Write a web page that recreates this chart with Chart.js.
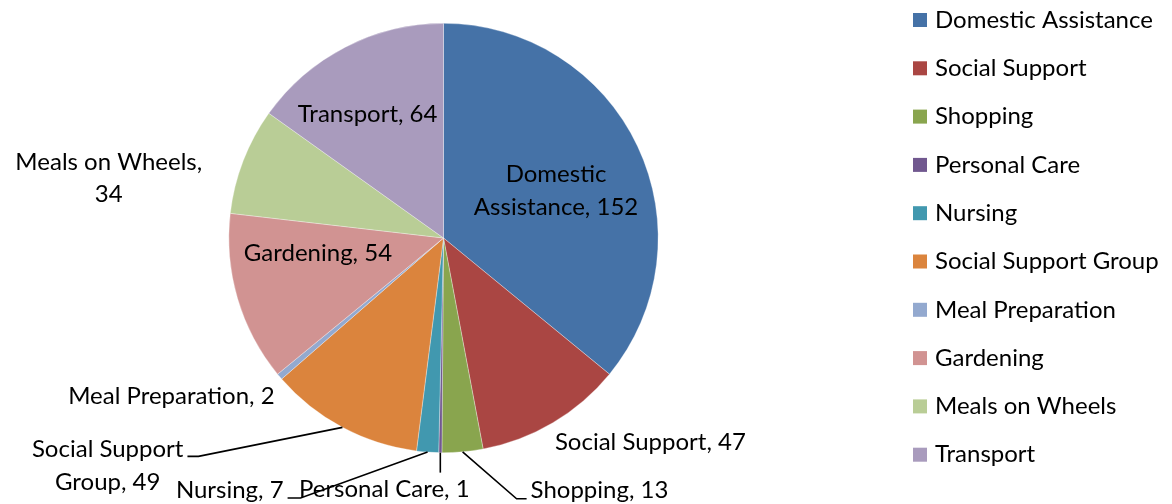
<!DOCTYPE html>
<html>
<head>
<meta charset="utf-8">
<script src="https://cdn.jsdelivr.net/npm/chart.js@4/dist/chart.umd.min.js"></script>
<style>
  body { margin: 0; background: #fff; }
  #wrap { width: 1172px; height: 504px; position: relative; }
</style>
</head>
<body>
<div id="wrap"><canvas id="serviceChart"></canvas></div>
<script>
const services = ['Domestic Assistance', 'Social Support', 'Shopping', 'Personal Care', 'Nursing',
    'Social Support Group', 'Meal Preparation', 'Gardening', 'Meals on Wheels', 'Transport'];
const clientCounts = [152, 47, 13, 1, 7, 49, 2, 54, 34, 64];
const sliceColors = ['#4572A7', '#AA4643', '#89A54E', '#71588F', '#4198AF',
    '#DB843D', '#93A9CF', '#D19392', '#B9CD96', '#A99BBD'];

const FONT = '24px Lato';
const LINE_H = 32.5;

// where each data label sits: inside slices use a radius fraction along the mid angle,
// outside ones hang off the rim point with an optional leader line
const labelSpots = [
    { inside: true, r: 0.58, dx: 0, dy: 6, wrap: 180 },
    { align: 'left', dx: 2, dy: 20 },
    { align: 'left', dx: 68, dy: 38, leader: [[54, 47], [64, 47]] },
    { align: 'center', dx: -56, dy: 37, leader: [[0, 20]] },
    { align: 'right', dx: -144, dy: 38, leader: [[-127, 46], [-140, 46]] },
    { align: 'right', dx: -159, dy: 22, leader: [[-144, 29], [-155, 29]], wrap: 175 },
    { align: 'right', dx: -5, dy: 20 },
    { inside: true, r: 0.6, dx: -2, dy: -21 },
    { align: 'right', dx: -41, dy: 1, wrap: 205 },
    { inside: true, r: 0.65, dx: -12, dy: 0 },
];

function wrapText(ctx, text, maxW) {
    if (!maxW) return [text];
    const words = text.split(' ');
    const lines = [];
    let cur = '';
    words.forEach(w => {
        const test = cur ? cur + ' ' + w : w;
        if (cur && ctx.measureText(test).width > maxW) {
            lines.push(cur);
            cur = w;
        } else {
            cur = test;
        }
    });
    lines.push(cur);
    return lines;
}

const pieLabels = {
    id: 'pieLabels',
    afterDatasetsDraw(chart) {
        const ctx = chart.ctx;
        const meta = chart.getDatasetMeta(0);
        const vals = chart.data.datasets[0].data;
        ctx.save();
        ctx.font = FONT;
        ctx.fillStyle = '#000';
        ctx.strokeStyle = '#000';
        ctx.lineWidth = 1.6;
        ctx.textBaseline = 'middle';
        ctx.textAlign = 'center';
        meta.data.forEach((arc, i) => {
            const spot = labelSpots[i];
            const p = arc.getProps(['x', 'y', 'startAngle', 'endAngle', 'outerRadius'], true);
            const mid = (p.startAngle + p.endAngle) / 2;
            const lines = wrapText(ctx, chart.data.labels[i] + ', ' + vals[i], spot.wrap);
            if (spot.inside) {
                const cx = p.x + Math.cos(mid) * p.outerRadius * spot.r + spot.dx;
                const cy = p.y + Math.sin(mid) * p.outerRadius * spot.r + spot.dy;
                const top = cy - (lines.length - 1) * LINE_H / 2;
                lines.forEach((l, k) => ctx.fillText(l, cx, top + k * LINE_H));
                return;
            }
            const ex = p.x + Math.cos(mid) * p.outerRadius;
            const ey = p.y + Math.sin(mid) * p.outerRadius;
            if (spot.leader) {
                ctx.beginPath();
                ctx.moveTo(ex, ey);
                spot.leader.forEach(([lx, ly]) => ctx.lineTo(ex + lx, ey + ly));
                ctx.stroke();
            }
            const tx = ex + spot.dx, ty = ey + spot.dy;
            const w = Math.max(...lines.map(l => ctx.measureText(l).width));
            let cx = tx;
            if (spot.align === 'left') cx = tx + w / 2;
            if (spot.align === 'right') cx = tx - w / 2;
            lines.forEach((l, k) => ctx.fillText(l, cx, ty + k * LINE_H));
        });
        ctx.restore();
    },
    afterDraw(chart) {
        // legend column on the right
        const ctx = chart.ctx;
        const ds = chart.data.datasets[0];
        ctx.save();
        ctx.font = FONT;
        ctx.textBaseline = 'middle';
        ctx.textAlign = 'left';
        chart.data.labels.forEach((name, i) => {
            const y = 20 + i * 48.3;
            ctx.fillStyle = ds.backgroundColor[i];
            ctx.fillRect(913, y - 7, 14, 14);
            ctx.fillStyle = '#000';
            ctx.fillText(name, 935, y);
        });
        ctx.restore();
    }
};

new Chart(document.getElementById('serviceChart'), {
    type: 'pie',
    data: {
        labels: services,
        datasets: [{
            data: clientCounts,
            backgroundColor: sliceColors,
            borderColor: 'rgba(255,255,255,0.45)',
            borderWidth: 0.7,
        }]
    },
    options: {
        responsive: true,
        maintainAspectRatio: false,
        animation: false,
        layout: { padding: { left: 0, right: 285, top: 23, bottom: 51 } },
        plugins: {
            legend: { display: false },
            tooltip: { enabled: false },
        }
    },
    plugins: [pieLabels]
});
</script>
</body>
</html>
